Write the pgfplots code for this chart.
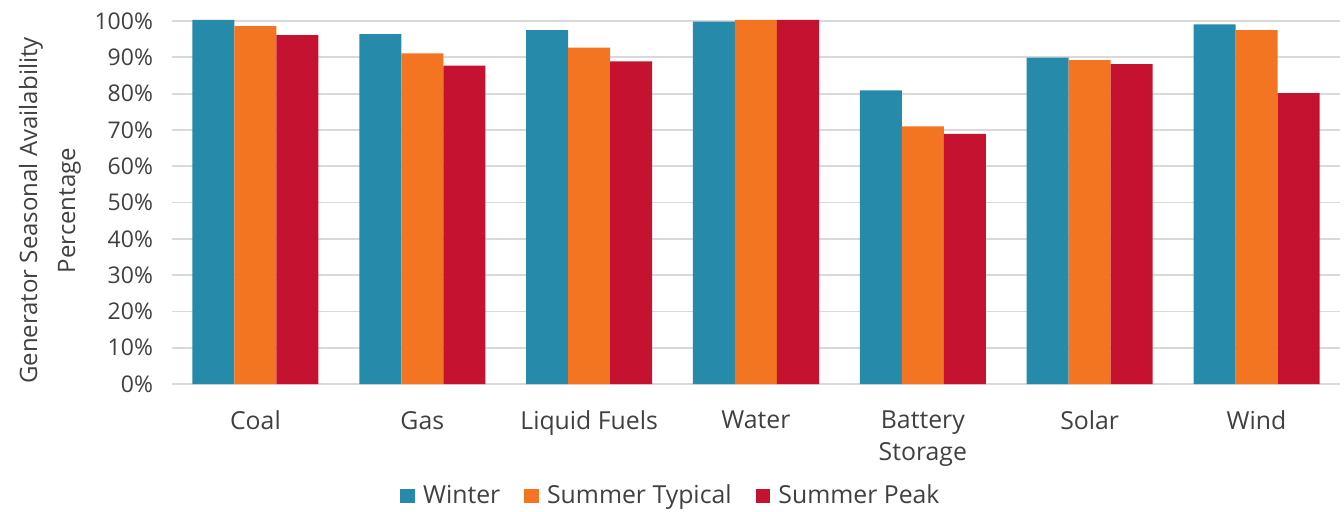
\documentclass[border=0pt]{standalone}
\usepackage{pgfplots}
\pgfplotsset{compat=1.18}
\usepackage{fontspec}
\setmainfont{Open Sans}
\definecolor{cwin}{RGB}{38,139,170}
\definecolor{csty}{RGB}{243,117,33}
\definecolor{cspk}{RGB}{196,18,48}
\definecolor{cgrid}{RGB}{217,217,217}
\definecolor{ctxt}{RGB}{64,64,64}
\begin{document}
\begin{tikzpicture}
\path[use as bounding box] (0,0) rectangle (672pt,255.5pt);
\begin{axis}[
  at={(86pt,63.5pt)}, anchor=south west,
  scale only axis, width=584pt, height=181.5pt,
  ybar=0pt, bar width=21pt,
  xmin=-0.5, xmax=6.5, ymin=0, ymax=100,
  clip=false,
  xtick={0,1,2,3,4,5,6},
  xticklabels={Coal,Gas,Liquid Fuels,Water,{Battery\\Storage},Solar,Wind},
  xticklabel style={align=center, font=\fontsize{12.4}{16}\selectfont, text=ctxt, yshift=-10pt},
  ytick={0,10,...,100},
  yticklabel={\pgfmathprintnumber{\tick}\%},
  yticklabel style={font=\fontsize{11.5}{12}\selectfont, text=ctxt, xshift=-6pt},
  /pgf/number format/assume math mode=true,
  major tick length=0pt,
  ymajorgrids, grid style={cgrid, line width=0.9pt},
  axis x line*=bottom, axis y line*=left,
  x axis line style={cgrid, line width=0.9pt, -},
  y axis line style={draw=none},
  ylabel={Generator Seasonal Availability\\Percentage},
  ylabel style={align=center, font=\fontsize{12}{19}\selectfont, text=ctxt, xshift=-4pt},
  legend columns=3,
  legend style={at={(0.428,-0.3085)}, anchor=center, draw=none, fill=none,
    font=\fontsize{12.4}{12}\selectfont, text=ctxt,
    /tikz/every even column/.append style={column sep=10pt}},
  legend image code/.code={\fill[#1] (0pt,-3.7pt) rectangle (7.4pt,3.7pt); \path (9.4pt,0pt);},
]
\addplot[fill=cwin, draw=none] coordinates {(0,100.3) (1,96.4) (2,97.5) (3,99.8) (4,80.9) (5,89.9) (6,99.1)};
\addplot[fill=csty, draw=none] coordinates {(0,98.6) (1,91.1) (2,92.7) (3,100.3) (4,71.0) (5,89.2) (6,97.5)};
\addplot[fill=cspk, draw=none] coordinates {(0,96.1) (1,87.7) (2,88.9) (3,100.3) (4,68.9) (5,88.1) (6,80.1)};
\legend{Winter, Summer Typical, Summer Peak}
\end{axis}
\end{tikzpicture}
\end{document}
